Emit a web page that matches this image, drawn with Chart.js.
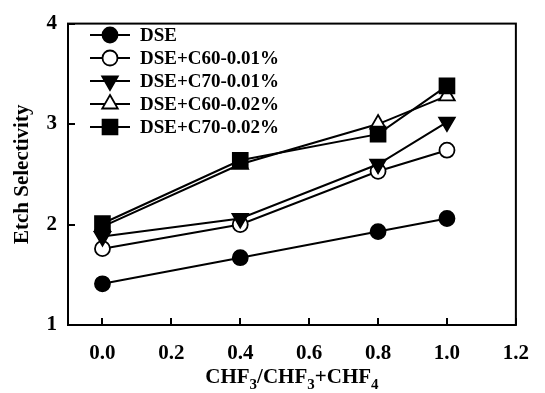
<!DOCTYPE html>
<html>
<head>
<meta charset="utf-8">
<script src="https://cdn.jsdelivr.net/npm/chart.js@4/dist/chart.umd.min.js"></script>
<style>
  html, body { margin: 0; padding: 0; background: #fff; }
  #wrap { width: 545px; height: 393px; }
</style>
</head>
<body>
<div id="wrap"><canvas id="myChart" width="545" height="393"></canvas></div>
<script>
// data
const xValues = [0.0, 0.4, 0.8, 1.0];
const seriesNames = ['DSE', 'DSE+C60-0.01%', 'DSE+C70-0.01%', 'DSE+C60-0.02%', 'DSE+C70-0.02%'];
const dse = [1.41, 1.67, 1.93, 2.06];
const c60_001 = [1.76, 2.00, 2.53, 2.74];
const c70_001 = [1.88, 2.06, 2.60, 3.02];
const c60_002 = [1.98, 2.60, 3.00, 3.28];
const c70_002 = [2.01, 2.64, 2.90, 3.38];
const xTicks = [0.0, 0.2, 0.4, 0.6, 0.8, 1.0, 1.2];
const yTicks = [1, 2, 3, 4];

const FONT = '"Liberation Serif", "Times New Roman", serif';

// marker look for each series
const markers = [
  { style: 'circle', radius: 7.5, fill: '#000', rotation: 0 },
  { style: 'circle', radius: 7.5, fill: '#fff', rotation: 0 },
  { style: 'triangle', radius: 9, fill: '#000', rotation: 180 },
  { style: 'triangle', radius: 9, fill: '#fff', rotation: 0 },
  { style: 'rect', radius: 10.5, fill: '#000', rotation: 0 },
];
const allValues = [dse, c60_001, c70_001, c60_002, c70_002];

const datasets = allValues.map((vals, i) => ({
  label: seriesNames[i],
  data: xValues.map((x, j) => ({ x: x, y: vals[j] })),
  borderColor: '#000',
  borderWidth: 2,
  pointStyle: markers[i].style,
  pointRadius: markers[i].radius,
  pointRotation: markers[i].rotation,
  pointBackgroundColor: markers[i].fill,
  pointBorderColor: '#000',
  pointBorderWidth: 1.8,
  pointHoverRadius: markers[i].radius,
  order: 4 - i,
}));

// frame, inside ticks, legend and x title
const decorations = {
  id: 'decorations',
  afterDraw(chart) {
    const ctx = chart.ctx;
    const a = chart.chartArea;
    const xs = chart.scales.x, ys = chart.scales.y;
    ctx.save();
    ctx.strokeStyle = '#000';
    ctx.lineWidth = 2;
    ctx.strokeRect(a.left, a.top, a.right - a.left, a.bottom - a.top);
    ctx.beginPath();
    xTicks.forEach(v => {
      const px = Math.round(xs.getPixelForValue(v));
      ctx.moveTo(px, a.bottom);
      ctx.lineTo(px, a.bottom - 7);
    });
    yTicks.forEach(v => {
      const py = Math.round(ys.getPixelForValue(v));
      ctx.moveTo(a.left, py);
      ctx.lineTo(a.left + 7, py);
    });
    ctx.stroke();

    // legend inside the plot
    const lx = 90, lw = 40, rowTop = 35, rowGap = 23;
    ctx.font = 'bold 19px ' + FONT;
    ctx.textBaseline = 'middle';
    ctx.textAlign = 'left';
    seriesNames.forEach((name, i) => {
      const y = rowTop + i * rowGap;
      ctx.beginPath();
      ctx.lineWidth = 2;
      ctx.moveTo(lx, y);
      ctx.lineTo(lx + lw, y);
      ctx.stroke();
      ctx.fillStyle = markers[i].fill;
      ctx.lineWidth = 1.8;
      Chart.helpers.drawPoint(ctx, {
        pointStyle: markers[i].style,
        radius: markers[i].radius,
        rotation: markers[i].rotation,
        borderWidth: 1.8,
      }, lx + lw / 2, y);
      ctx.fillStyle = '#000';
      ctx.fillText(name, lx + lw + 10, y + 1);
    });

    // x axis title with subscripts
    const parts = [['CHF', false], ['3', true], ['/CHF', false], ['3', true], ['+CHF', false], ['4', true]];
    const big = 'bold 21px ' + FONT, small = 'bold 15px ' + FONT;
    let total = 0;
    parts.forEach(p => { ctx.font = p[1] ? small : big; total += ctx.measureText(p[0]).width; });
    let cx = (a.left + a.right) / 2 - total / 2;
    const base = 383;
    ctx.textBaseline = 'alphabetic';
    parts.forEach(p => {
      ctx.font = p[1] ? small : big;
      ctx.fillText(p[0], cx, p[1] ? base + 6 : base);
      cx += ctx.measureText(p[0]).width;
    });

    // y axis title
    ctx.translate(23, (a.top + a.bottom) / 2);
    ctx.rotate(-Math.PI / 2);
    ctx.font = 'bold 21px ' + FONT;
    ctx.textAlign = 'center';
    ctx.textBaseline = 'middle';
    ctx.fillText('Etch Selectivity', 0, 0);
    ctx.restore();
  }
};

new Chart(document.getElementById('myChart'), {
  type: 'line',
  data: { datasets: datasets },
  options: {
    responsive: false,
    animation: false,
    layout: { padding: { top: 13, right: 28, left: 0, bottom: 0 } },
    plugins: { legend: { display: false }, tooltip: { enabled: false } },
    scales: {
      x: {
        type: 'linear',
        min: -0.1,
        max: 1.2,
        afterBuildTicks: s => { s.ticks = xTicks.map(v => ({ value: v })); },
        afterFit: s => { s.height = 68; },
        grid: { display: false, drawTicks: false },
        border: { display: false },
        ticks: {
          color: '#000',
          padding: 16,
          maxRotation: 0,
          font: { family: FONT, size: 21, weight: 'bold' },
          callback: v => Number(v).toFixed(1),
        },
      },
      y: {
        min: 1,
        max: 4,
        afterBuildTicks: s => { s.ticks = yTicks.map(v => ({ value: v })); },
        afterFit: s => { s.width = 68; },
        grid: { display: false, drawTicks: false },
        border: { display: false },
        ticks: {
          color: '#000',
          padding: 11,
          font: { family: FONT, size: 21, weight: 'bold' },
        },
      },
    },
  },
  plugins: [decorations],
});
</script>
</body>
</html>
